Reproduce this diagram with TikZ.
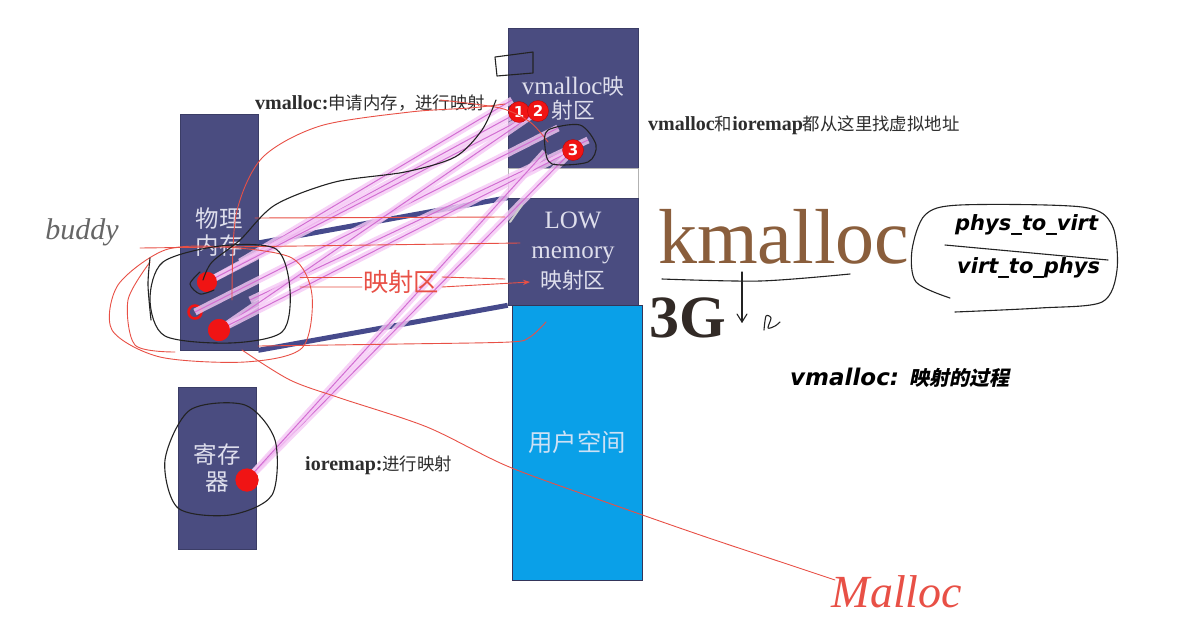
\documentclass[tikz,border=0pt]{standalone}
\usepackage{fontspec}
\setmainfont{Liberation Serif}
\newfontfamily\cjk{Noto Sans CJK SC}[Scale=0.87]
\newfontfamily\cjksl{Noto Sans CJK SC}[Scale=0.87,FakeSlant=0.2]
\newfontfamily\dvs{DejaVu Sans}
\usetikzlibrary{arrows.meta}
\definecolor{boxc}{RGB}{74,76,128}
\definecolor{boxtxt}{RGB}{222,222,236}
\definecolor{userblue}{RGB}{10,160,232}
\definecolor{bandc}{RGB}{70,74,140}
\definecolor{pinkglow}{RGB}{245,200,245}
\definecolor{pinkcore}{RGB}{210,110,210}
\definecolor{redpen}{RGB}{232,80,70}
\definecolor{blackpen}{RGB}{35,35,35}
\definecolor{dotred}{RGB}{240,20,20}
\definecolor{kbrown}{RGB}{138,94,60}
\definecolor{txt}{RGB}{45,45,45}
\tikzset{
  membox/.style={draw=boxc!80!black, fill=boxc, text=boxtxt, inner sep=0pt, align=center, line width=0.6pt},
  userbox/.style={draw=boxc!70!black, fill=userblue, text={rgb,255:red,205;green,225;blue,245}, inner sep=0pt, align=center, line width=0.8pt},
  gapbox/.style={draw=gray!60, fill=white, inner sep=0pt, line width=0.6pt},
  bandline/.style={draw=bandc, line width=5pt},
  pinkl/.style={draw=pinkcore, line width=1pt, preaction={draw=pinkglow, line width=7pt, opacity=0.8}},
  rdot/.style={circle, fill=dotred, inner sep=0pt, minimum size=#1},
  ndot/.style={circle, fill=dotred, draw=red!70!black, line width=0.3pt, inner sep=0pt, minimum size=21pt, text=white, font=\dvs\bfseries\fontsize{15}{15}\selectfont},
  rpen/.style={draw=redpen, line width=0.9pt, line cap=round, line join=round},
  bpen/.style={draw=blackpen, line width=1.1pt, line cap=round, line join=round},
  lbl/.style={inner sep=0pt, text=txt, anchor=west}
}
\begin{document}
\begin{tikzpicture}[x=1pt,y=-1pt]
\useasboundingbox (0,0) rectangle (1194,641);
\fill[white] (0,0) rectangle (1194,641);

% ---- memory boxes ----
\node[membox, minimum width=130pt, minimum height=140pt, font=\fontsize{25}{24}\selectfont] (vm) at (573,98) {vmalloc{\cjk 映}\\{\cjk 射区}};
\node[gapbox, minimum width=130pt, minimum height=30pt] (gap) at (573,183) {};
\node[membox, minimum width=130pt, minimum height=107pt, font=\fontsize{25}{30}\selectfont] (low) at (573,251.5) {LOW\\memory\\{\cjk 映射区}};
\node[userbox, minimum width=130pt, minimum height=275pt, font=\fontsize{28}{30}\selectfont] (user) at (577,442.5) {{\cjk 用户空间}};
\node[membox, minimum width=78pt, minimum height=236pt, font=\fontsize{27}{27}\selectfont] (pm) at (219,232) {{\cjk 物理}\\{\cjk 内存}};
\node[membox, minimum width=78pt, minimum height=162pt, font=\fontsize{27}{27}\selectfont] (reg) at (217,468) {{\cjk 寄存}\\{\cjk 器}};

% ---- mapping bands ----
\coordinate (pmA) at (258,243);
\draw[bandline] (pmA) -- (low.north west);
\draw[bandline] (pm.south east) -- (low.south west);

% ---- dots ----
\node[rdot=20pt] (d1) at (207,282) {};
\node[rdot=22pt] (d3) at (219,330) {};
\node[circle, draw=dotred, line width=2.5pt, inner sep=0pt, minimum size=13pt] (d2) at (195,312) {};
\node[rdot=23pt] (dr) at (247,480) {};
\coordinate (n1p) at (519,112);
\coordinate (n2p) at (538,111);
\coordinate (n3p) at (573,150);
\coordinate (n3b) at (545,152);
\coordinate (e1) at (512,100);
\coordinate (e2) at (558,128);
\coordinate (e3) at (588,140);
\coordinate (s1) at (240,262);
\coordinate (s2) at (250,300);

% ---- pink mapping lines ----
\draw[pinkl] (s1) -- (e1);
\draw[pinkl] (d1.center) -- (n1p);
\draw[pinkl] (d1.center) -- (n2p);
\draw[pinkl] (d2.center) -- (e2);
\draw[pinkl] (s2) -- (e3);
\draw[pinkl] (d3.center) -- (n2p);
\draw[pinkl] (d3.center) -- (n3p);
\draw[pinkl] (dr.center) -- (n3p);
\draw[pinkl] (dr.center) -- (n3b);

% redraw dots on top
\fill[dotred] (d1) circle (10pt);
\fill[dotred] (d3) circle (11pt);
\fill[dotred] (dr) circle (11.5pt);
\node[ndot] (n1) at (n1p) {1};
\node[ndot] (n2) at (n2p) {2};
\node[ndot] (n3) at (n3p) {3};

% ---- printed labels ----
\node[lbl, font=\fontsize{20}{20}\selectfont] (t1) at (255,103) {\textbf{vmalloc:}{\cjk 申请内存，进行映射}};
\node[lbl, font=\fontsize{20}{20}\selectfont] (t2) at (648,125) {\textbf{vmalloc}{\cjk 和}\textbf{ioremap}{\cjk 都从这里找虚拟地址}};
\node[lbl, font=\fontsize{20}{20}\selectfont] (t3) at (305,465) {\textbf{ioremap:}{\cjk 进行映射}};
\node[inner sep=0pt, anchor=base west, text=kbrown, font=\fontsize{78}{78}\selectfont] (km) at (658,263) {kmalloc};
\node[inner sep=0pt, anchor=base west, text={rgb,255:red,50;green,42;blue,38}, font=\bfseries\fontsize{60}{60}\selectfont] (g3) at (649,337) {3G};
\node[lbl, text=black, font=\dvs\bfseries\itshape\fontsize{21}{21}\selectfont] (pv) at (955,225) {phys\_to\_virt};
\node[lbl, text=black, font=\dvs\bfseries\itshape\fontsize{21}{21}\selectfont] (vp) at (957,268) {virt\_to\_phys};
\node[lbl, text=black, font=\fontsize{23}{23}\selectfont] (proc) at (790,378) {{\dvs\bfseries\itshape vmalloc: }{\cjksl\bfseries 映射的过程}};

% ---- red pen annotations ----
\draw[rpen] plot[smooth] coordinates {(232,300) (236,215) (262,158) (320,126) (410,112) (470,108) (505,104)};
\draw[rpen] plot[smooth] coordinates {(440,100) (500,108) (530,122) (548,142)};
\draw[rpen] plot[smooth cycle] coordinates {(165,250) (118,285) (112,330) (160,357) (245,362) (302,348) (312,295) (292,258) (225,247)};
\draw[rpen] plot[smooth] coordinates {(150,262) (128,300) (135,345) (175,352)};
\draw[rpen] (140,248) -- (300,246) -- (520,243);
\draw[rpen] (255,218) -- (505,217);
\draw[rpen] plot[smooth] coordinates {(258,346) (400,344) (510,342) (530,337) (546,322)};
\draw[rpen] (300,277) -- (362,277);
\draw[rpen] (442,277) -- (505,279);
\draw[rpen, -{Stealth[length=7pt]}] (300,287) -- (362,287) (442,287) -- (530,282);
\node[inner sep=0pt, text=redpen, font=\cjk\fontsize{29}{29}\selectfont] (ysq) at (401,282) {映射区};
\draw[rpen] plot[smooth] coordinates {(242,350) (290,380) (340,398) (427,427) (507,466) (600,500) (700,535) (790,565) (835,580)};
\node[inner sep=0pt, text=redpen, font=\itshape\fontsize{46}{46}\selectfont] (mal) at (897,592) {Malloc};

% ---- black pen annotations ----
\draw[bpen] plot[smooth] coordinates {(203,280) (212,262) (240,240) (275,205) (335,182) (405,172) (455,157) (482,130) (496,100)};
\draw[bpen] plot[smooth cycle] coordinates {(150,300) (163,262) (220,246) (276,249) (290,290) (282,332) (230,343) (165,336)};
\draw[bpen] plot[smooth] coordinates {(200,272) (190,284) (200,294) (214,290)};
\draw[bpen] (495,57) -- (533,52) -- (533,73) -- (497,76) -- cycle;
\draw[bpen] plot[smooth cycle] coordinates {(548,130) (580,125) (596,145) (588,162) (552,164) (545,147)};
\draw[bpen] plot[smooth cycle] coordinates {(190,410) (245,405) (275,440) (272,495) (230,515) (178,508) (165,460)};
\draw[bpen] plot[smooth] coordinates {(955,312) (1040,308) (1102,302) (1117,270) (1112,225) (1082,207) (960,205) (925,215) (912,250) (916,282) (950,298)};
\draw[bpen] (945,245) -- (1108,260);
\draw[bpen] plot[smooth] coordinates {(662,279) (760,281) (850,274)};
\draw[bpen] (742,272) -- (742,322);
\draw[bpen] (737,314) -- (742,322) -- (747,314);
\draw[bpen] plot[smooth] coordinates {(764,330) (766,316) (771,318) (768,328) (775,326) (780,322)};
\draw[bpen] plot[smooth] coordinates {(150,258) (148,285) (151,320)};
\draw[draw=gray!40, line width=2pt, line cap=round] (510,222) -- (522,205);
\node[inner sep=0pt, text=gray!80!black, font=\itshape\fontsize{30}{30}\selectfont] (bud) at (82,232) {buddy};
\end{tikzpicture}
\end{document}
